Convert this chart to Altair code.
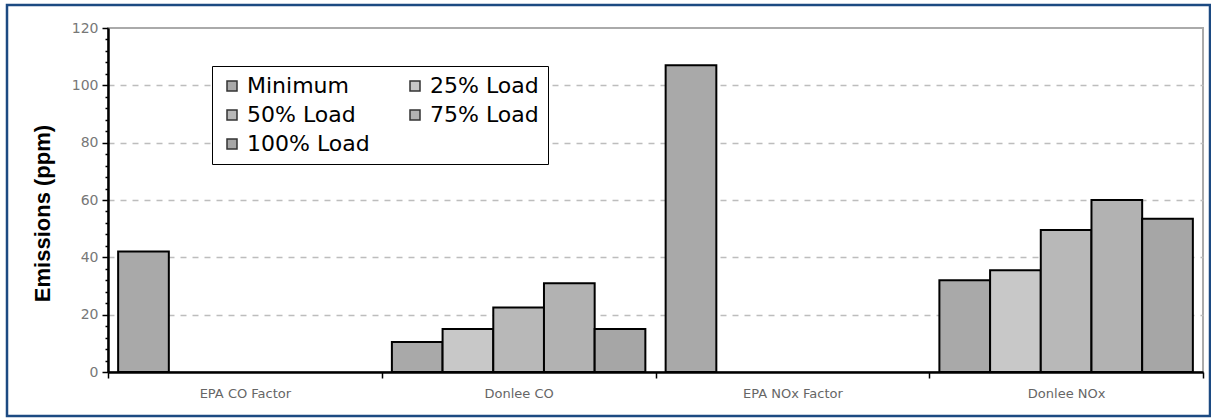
import altair as alt
import pandas as pd

categories = ["EPA CO Factor", "Donlee CO", "EPA NOx Factor", "Donlee NOx"]
loads = ["Minimum", "25% Load", "50% Load", "75% Load", "100% Load"]
# values per category, None = no bar
epa_co = [42, None, None, None, None]
donlee_co = [10.5, 15, 22.5, 31, 15]
epa_nox = [107, None, None, None, None]
donlee_nox = [32, 35.5, 49.5, 60, 53.5]
colors = ["#a9a9a9", "#c8c8c8", "#b8b8b8", "#b2b2b2", "#a6a6a6"]

rows = []
for cat, vals in zip(categories, [epa_co, donlee_co, epa_nox, donlee_nox]):
    for ld, v in zip(loads, vals):
        if v is not None:
            rows.append({"cat": cat, "load": ld, "value": v})
df = pd.DataFrame(rows)

W, H = 1095, 344
PL, PT, PR, PB = 108, 28, 8, 47

yvals = list(range(0, 121, 4))

bars = alt.Chart(df).mark_bar(stroke="black", strokeWidth=2).encode(
    x=alt.X("cat:N", sort=categories, title=None,
            scale=alt.Scale(paddingInner=0, paddingOuter=0),
            axis=alt.Axis(labelAngle=0, labelFont="DejaVu Sans", labelFontSize=13,
                          labelColor="#666666", labelPadding=9, tickBand="extent",
                          tickSize=6, tickColor="black", tickWidth=1.5,
                          domainColor="black", domainWidth=2.5, grid=False)),
    xOffset=alt.XOffset("load:N", sort=loads,
                        scale=alt.Scale(domain=loads, paddingInner=0, paddingOuter=0.2)),
    y=alt.Y("value:Q", title="Emissions (ppm)",
            scale=alt.Scale(domain=[0, 120], nice=False),
            axis=alt.Axis(values=yvals,
                          labelExpr="datum.value % 20 === 0 ? datum.label : ''",
                          labelFont="DejaVu Sans", labelFontSize=14, labelColor="#777777",
                          labelPadding=4,
                          tickSize={"condition": {"test": "datum.value % 20 === 0", "value": 6}, "value": 3},
                          tickColor="black", tickWidth=1.5,
                          domainColor="black", domainWidth=2.5,
                          grid=True, gridColor="#bdbdbd", gridDash=[6, 6], gridWidth=1.5,
                          gridOpacity={"condition": {"test": "datum.value % 20 === 0 && datum.value > 0 && datum.value < 120", "value": 1}, "value": 0},
                          titleFont="Liberation Sans", titleFontSize=22, titleFontWeight="bold",
                          titleColor="black", titleAngle=-90, titleAlign="center",
                          titleBaseline="middle", titleX=-66, titleY=185)),
    color=alt.Color("load:N", sort=loads,
                    scale=alt.Scale(domain=loads, range=colors),
                    legend=alt.Legend(title=None, orient="none", legendX=104, legendY=38,
                                      columns=2, direction="horizontal",
                                      strokeColor="black", fillColor="white", padding=9,
                                      symbolType="square", symbolSize=100,
                                      symbolStrokeColor="#333333", symbolStrokeWidth=1.5,
                                      labelFont="DejaVu Sans", labelFontSize=22,
                                      labelColor="black", labelLimit=300,
                                      rowPadding=7, columnPadding=34, labelOffset=4)),
)

frame = alt.Chart(pd.DataFrame({"a": [0]})).mark_rect(
    fill=None, stroke="#1c4a82", strokeWidth=2.5
).encode(
    x=alt.value(-PL + 7), x2=alt.value(W + PR - 1),
    y=alt.value(-PT + 5), y2=alt.value(H + PB - 3),
)

chart = alt.layer(bars, frame).properties(
    width=W, height=H,
    autosize=alt.AutoSizeParams(type="none"),
    padding={"left": PL, "top": PT, "right": PR, "bottom": PB},
    background="white",
).configure_view(stroke="#aaaaaa", strokeWidth=2)

chart.save("out.html", embed_options={"renderer": "svg", "actions": False})
